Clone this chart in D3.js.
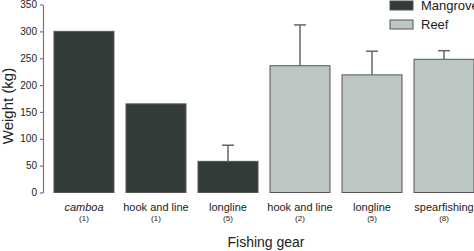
<!DOCTYPE html>
<html>
<head>
<script src="https://d3js.org/d3.v7.min.js"></script>
<style>
  body { margin: 0; background: #fff; }
  text { font-family: "Liberation Sans", Arial, sans-serif; }
</style>
</head>
<body>
<svg id="chart" width="474" height="251"></svg>
<script>
// data
const gears = ["camboa", "hook and line", "longline", "hook and line", "longline", "spearfishing"];
const counts = ["(1)", "(1)", "(5)", "(2)", "(5)", "(8)"];
const habitats = ["Mangrove", "Mangrove", "Mangrove", "Reef", "Reef", "Reef"];
const weights = [300, 165, 58, 236, 219, 248];
const errors = [null, null, 30, 76, 44, 16];
const yTicks = [0, 50, 100, 150, 200, 250, 300, 350];
const legendItems = ["Mangrove", "Reef"];

const svg = d3.select("#chart");
const colour = d3.scaleOrdinal().domain(legendItems).range(["#323a3a", "#bcc6c4"]);

const x = d3.scaleBand().domain(d3.range(gears.length))
  .range([48, 480]).paddingInner(0.167).paddingOuter(0.083);
const y = d3.scaleLinear().domain([0, 350]).range([192.5, 4.5]);

// y axis
const yAxis = svg.append("g").attr("transform", "translate(43,0)")
  .call(d3.axisLeft(y).tickValues(yTicks).tickSize(3).tickPadding(3).tickSizeOuter(0));
yAxis.select(".domain").attr("stroke", "#777").attr("stroke-width", 1.2);
yAxis.selectAll(".tick line").attr("stroke", "#777").attr("stroke-width", 1.2);
yAxis.selectAll("text").attr("font-size", 10).attr("fill", "#222")
  .style("font-family", "'Liberation Sans', Arial, sans-serif");

// bars
const bars = svg.append("g");
bars.selectAll("rect").data(weights).enter().append("rect")
  .attr("x", (d, i) => x(i))
  .attr("y", d => y(d))
  .attr("width", x.bandwidth())
  .attr("height", d => y(0) - y(d))
  .attr("fill", (d, i) => colour(habitats[i]))
  .attr("stroke", "#555")
  .attr("stroke-width", 1);

// error bars (upper only)
const err = svg.append("g").attr("stroke", "#666").attr("stroke-width", 1.5);
weights.forEach((w, i) => {
  if (errors[i] == null) return;
  const cx = x(i) + x.bandwidth() / 2;
  err.append("line").attr("x1", cx).attr("x2", cx).attr("y1", y(w)).attr("y2", y(w + errors[i]));
  err.append("line").attr("x1", cx - 6).attr("x2", cx + 6).attr("y1", y(w + errors[i])).attr("y2", y(w + errors[i]));
});

// category labels
const labels = svg.append("g").attr("text-anchor", "middle").attr("fill", "#222");
gears.forEach((g, i) => {
  const cx = x(i) + x.bandwidth() / 2;
  labels.append("text").attr("x", cx).attr("y", 211).attr("font-size", 11)
    .attr("font-style", i === 0 ? "italic" : "normal").text(g);
  labels.append("text").attr("x", cx).attr("y", 221).attr("font-size", 8).text(counts[i]);
});

// axis titles
svg.append("text").attr("x", 266).attr("y", 247).attr("text-anchor", "middle")
  .attr("font-size", 14).attr("fill", "#222").text("Fishing gear");
svg.append("text").attr("transform", "translate(13,106) rotate(-90)").attr("text-anchor", "middle")
  .attr("font-size", 15).attr("fill", "#222").text("Weight (kg)");

// legend
const legend = svg.append("g");
legendItems.forEach((k, i) => {
  legend.append("rect").attr("x", 390).attr("y", 1 + i * 19).attr("width", 23).attr("height", 9)
    .attr("fill", colour(k)).attr("stroke", "#555");
  legend.append("text").attr("x", 421).attr("y", 10 + i * 19).attr("font-size", 13)
    .attr("fill", "#222").text(k);
});
</script>
</body>
</html>
